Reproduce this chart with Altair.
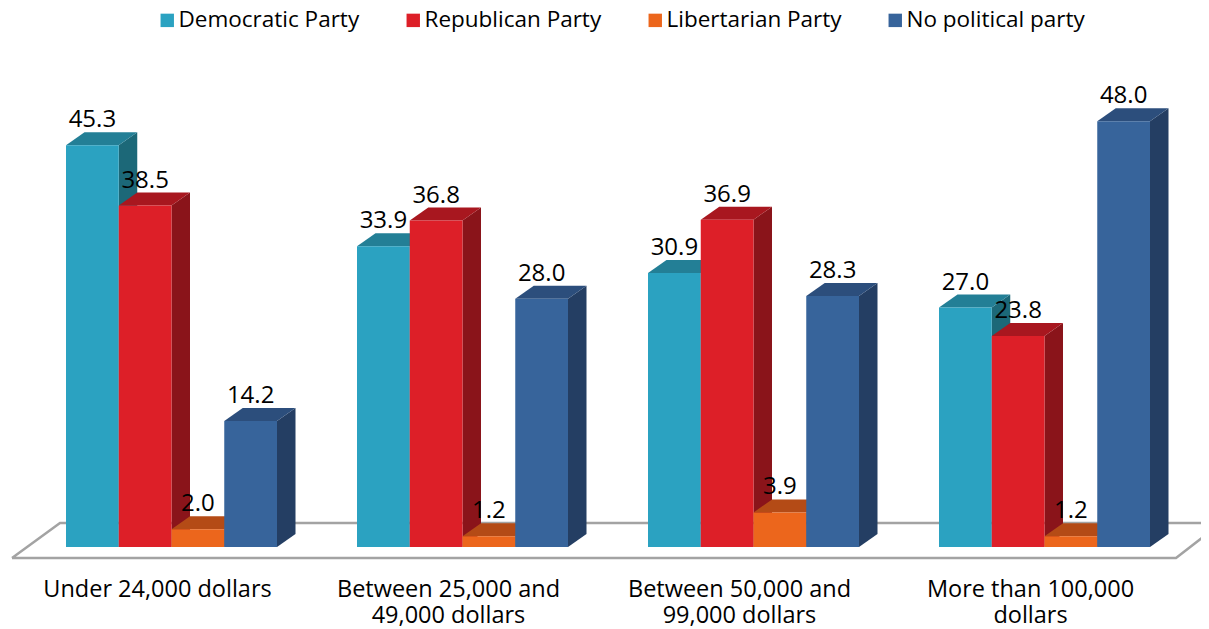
import altair as alt
import pandas as pd

# ---- data ----
CATEGORIES = [
    "Under 24,000 dollars",
    "Between 25,000 and\n49,000 dollars",
    "Between 50,000 and\n99,000 dollars",
    "More than 100,000\ndollars",
]
SERIES = ["Democratic Party", "Republican Party", "Libertarian Party", "No political party"]
DEMOCRATIC = [45.3, 33.9, 30.9, 27.0]
REPUBLICAN = [38.5, 36.8, 36.9, 23.8]
LIBERTARIAN = [2.0, 1.2, 3.9, 1.2]
NO_PARTY = [14.2, 28.0, 28.3, 48.0]
VALUES = [DEMOCRATIC, REPUBLICAN, LIBERTARIAN, NO_PARTY]

# ---- styles ----
FRONT = ["#2ba2c1", "#dd1f28", "#ec661c", "#37649b"]
TOP = ["#237f96", "#a8171f", "#b44b16", "#2c4e7c"]
SIDE = ["#1c6878", "#8a141a", "#8f3a10", "#243e63"]
FONT = "Open Sans"

# ---- layout constants ----
W, H = 1193, 621
PX_GROUP = 291.0          # pixels per category step
G0 = 163.5                # pixel position of first category centre
K = 8.87                  # pixels per value unit
BASE = 539.0              # pixel position of zero line
BW = 52.75 / PX_GROUP     # bar width in x units
DX = 18.5 / PX_GROUP      # depth offset (x)
DY = 13.0 / K             # depth offset (y)
XDOM = [-G0 / PX_GROUP, (W - G0) / PX_GROUP]
YDOM = [-(H - BASE) / K, BASE / K]
LABEL_Y = (BASE - 589) / K
LABEL_SHIFT = -14 / PX_GROUP

rows = []
for gi, cat in enumerate(CATEGORIES):
    for si, ser in enumerate(SERIES):
        rows.append({"g": gi, "cat": cat, "series": ser, "s": si,
                     "value": VALUES[si][gi], "bar": f"{gi}-{si}"})
df = pd.DataFrame(rows)

cat_df = pd.DataFrame({"g": list(range(len(CATEGORIES))), "cat": CATEGORIES})

FLOOR = pd.DataFrame({
    "i": [0, 1, 2, 3, 4],
    "fx": [XDOM[0] + 4 / PX_GROUP, XDOM[0] + 52 / PX_GROUP, XDOM[0] + 1213 / PX_GROUP,
           XDOM[0] + 1168 / PX_GROUP, XDOM[0] + 4 / PX_GROUP],
    "fy": [-11 / K, 24 / K, 24 / K, -11 / K, -11 / K],
})

xs = alt.Scale(domain=XDOM, nice=False, zero=False)
ys = alt.Scale(domain=YDOM, nice=False, zero=False)

base = alt.Chart(df).transform_calculate(
    xl=f"datum.g + (datum.s - 2) * {BW}",
    xr=f"datum.g + (datum.s - 1) * {BW}",
)

folded = base.transform_calculate(t0="0", t1="1").transform_fold(
    ["t0", "t1"], as_=["k", "t"]
)

floor = alt.Chart(FLOOR).mark_line(
    clip=True, color="#a3a3a3", strokeWidth=2.5
).encode(
    x=alt.X("fx:Q", scale=xs, axis=None),
    y=alt.Y("fy:Q", scale=ys, axis=None),
    order=alt.Order("i:Q"),
)

sides = folded.transform_calculate(
    xs=f"datum.xr + datum.t * {DX}",
    ylo=f"datum.t * {DY}",
    yhi=f"datum.value + datum.t * {DY}",
).mark_area(orient="vertical", opacity=1).encode(
    x=alt.X("xs:Q", scale=xs, axis=None),
    y=alt.Y("yhi:Q", scale=ys, axis=None, stack=None),
    y2="ylo:Q",
    detail="bar:N",
    color=alt.Color("series:N", scale=alt.Scale(domain=SERIES, range=SIDE), legend=None),
)

tops = folded.transform_calculate(
    xa=f"datum.xl + datum.t * {DX}",
    xb=f"datum.xr + datum.t * {DX}",
    ya=f"datum.value + datum.t * {DY}",
).mark_area(orient="horizontal", opacity=1).encode(
    y=alt.Y("ya:Q", scale=ys, axis=None, stack=None),
    x=alt.X("xa:Q", scale=xs, axis=None, stack=None),
    x2="xb:Q",
    detail="bar:N",
    color=alt.Color("series:N", scale=alt.Scale(domain=SERIES, range=TOP), legend=None),
)

fronts = base.mark_bar(opacity=1).encode(
    x=alt.X("xl:Q", scale=xs, axis=None),
    x2="xr:Q",
    y=alt.Y("value:Q", scale=ys, axis=None, stack=None),
    y2=alt.datum(0),
    color=alt.Color(
        "series:N",
        scale=alt.Scale(domain=SERIES, range=FRONT),
        legend=alt.Legend(
            title=None, orient="none", legendX=148, legendY=1, direction="horizontal",
            symbolType="square", symbolSize=180, symbolStrokeWidth=0, symbolOpacity=1,
            labelFont=FONT, labelFontSize=22.5, labelColor="#000000", labelOffset=0,
            columnPadding=42, labelLimit=400, padding=0,
        ),
    ),
)

labels = base.transform_calculate(
    xc=f"datum.g + (datum.s - 1.5) * {BW}"
).mark_text(
    font=FONT, fontSize=24, color="#000000", baseline="alphabetic", align="center", dy=-18
).encode(
    x=alt.X("xc:Q", scale=xs, axis=None),
    y=alt.Y("value:Q", scale=ys, axis=None),
    text=alt.Text("value:Q", format=".1f"),
)

cat_labels = alt.Chart(cat_df).transform_calculate(
    ly=f"{LABEL_Y}",
    lx=f"datum.g + {LABEL_SHIFT}",
).mark_text(
    font=FONT, fontSize=23.5, color="#000000", baseline="alphabetic", align="center",
    lineBreak="\n", lineHeight=26,
).encode(
    x=alt.X("lx:Q", scale=xs, axis=None),
    y=alt.Y("ly:Q", scale=ys, axis=None),
    text="cat:N",
)

chart = alt.layer(floor, sides, tops, fronts, labels, cat_labels).resolve_scale(
    color="independent"
).properties(
    width=W, height=H, autosize=alt.AutoSizeParams(type="none"), padding=0
).configure_view(stroke=None)

chart.save("out.html", embed_options={"renderer": "svg", "actions": False})
